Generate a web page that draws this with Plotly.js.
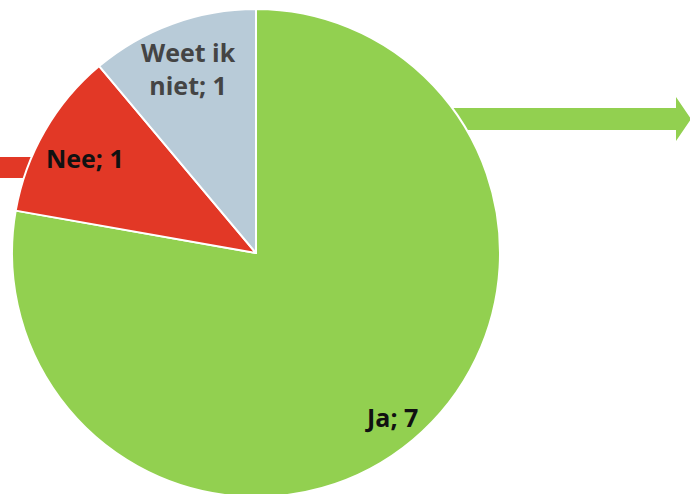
<!DOCTYPE html>
<html>
<head>
<meta charset="utf-8">
<script src="https://cdn.plot.ly/plotly-3.0.1.min.js"></script>
<style>
html,body{margin:0;padding:0;overflow:hidden;background:#fff;width:690px;height:494px;}
#chart{width:690px;height:510px;}
</style>
</head>
<body>
<div id="chart"></div>
<script>
// Data
const categories = ['Ja', 'Nee', 'Weet ik niet'];
const displayNames = ['Ja', 'Nee', 'Weet ik<br>niet'];
const counts = [7, 1, 1];
const sliceColors = ['#92D050', '#E23826', '#B8CBD8'];
const labelColors = ['#111111', '#111111', '#444444'];

const W = 690, H = 510;
const px = (x) => x / W;
const py = (y) => 1 - y / H;

// Pie geometry (pixels)
const cx = 256, cy = 253, r = 244;

// label positions (pixel centers)
const labelPos = [[391, 417], [85, 158], [188, 69]];

const annotations = categories.map((c, i) => ({
  xref: 'paper', yref: 'paper',
  x: px(labelPos[i][0]), y: py(labelPos[i][1]),
  xanchor: 'center', yanchor: 'middle',
  text: '<b>' + displayNames[i] + '; ' + counts[i] + '</b>',
  showarrow: false,
  font: {family: 'Open Sans, Noto Sans, sans-serif', size: 25, color: labelColors[i]},
  align: 'center'
}));

function arrowPath(x0, x1, xh, yc, shaftHalf, headHalf) {
  const pts = [
    [x0, yc - shaftHalf], [xh, yc - shaftHalf], [xh, yc - headHalf], [x1, yc],
    [xh, yc + headHalf], [xh, yc + shaftHalf], [x0, yc + shaftHalf]
  ];
  return 'M' + pts.map(p => px(p[0]) + ',' + py(p[1])).join('L') + 'Z';
}

const shapes = [
  {type: 'path', xref: 'paper', yref: 'paper', layer: 'below',
   path: arrowPath(430, 691, 676, 119, 11, 22),
   fillcolor: sliceColors[0], line: {width: 0}},
  {type: 'path', xref: 'paper', yref: 'paper', layer: 'below',
   path: 'M' + px(-5) + ',' + py(157) + 'L' + px(60) + ',' + py(157) + 'L' + px(60) + ',' + py(178) + 'L' + px(-5) + ',' + py(178) + 'Z',
   fillcolor: sliceColors[1], line: {width: 0}}
];

const trace = {
  type: 'pie',
  labels: categories,
  values: counts,
  sort: false,
  direction: 'clockwise',
  rotation: 0,
  marker: {colors: sliceColors, line: {color: '#ffffff', width: 2}},
  textinfo: 'none',
  hoverinfo: 'label+value',
  showlegend: false,
  domain: {x: [px(cx - r), px(cx + r)], y: [py(cy + r), py(cy - r)]}
};

Plotly.newPlot('chart', [trace], {
  width: W, height: H,
  margin: {l: 0, r: 0, t: 0, b: 0},
  paper_bgcolor: '#ffffff',
  showlegend: false,
  annotations: annotations,
  shapes: shapes
}, {displayModeBar: false, staticPlot: true});
</script>
</body>
</html>
